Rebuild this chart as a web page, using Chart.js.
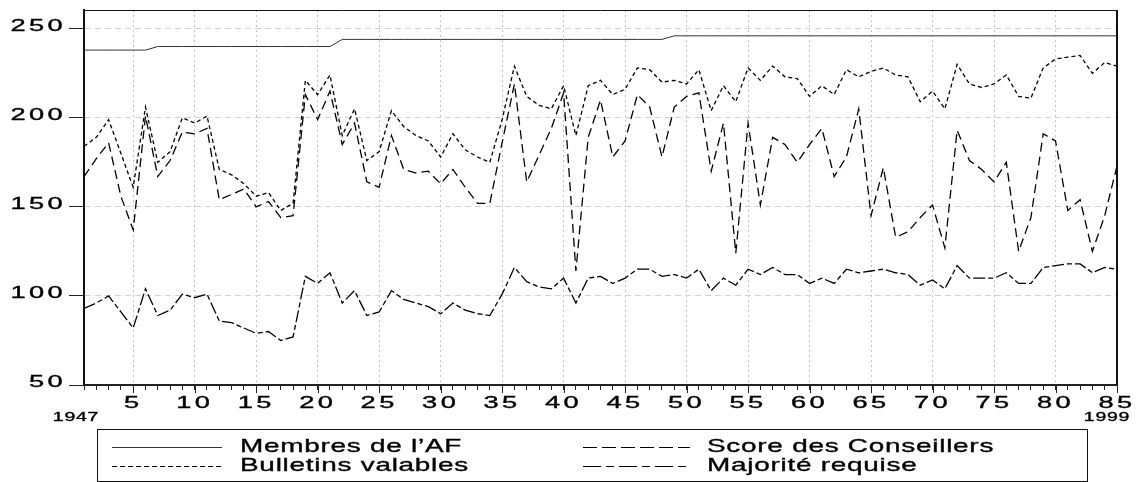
<!DOCTYPE html>
<html>
<head>
<meta charset="utf-8">
<title>Élections au Conseil fédéral 1947–1999</title>
<script src="https://cdn.jsdelivr.net/npm/chart.js@4/dist/chart.umd.min.js"></script>
<style>
  html, body { margin: 0; padding: 0; background: #ffffff; }
  #wrap { position: relative; width: 1138px; height: 482px; }
</style>
</head>
<body>
<div id="wrap"><canvas id="chart" width="1138" height="482"></canvas></div>
<script>
// Election number (1 = 1947 … 85 = 1999)
const elections = [
  1,2,3,4,5,6,7,8,9,10,11,12,13,14,15,16,17,18,19,20,
  21,22,23,24,25,26,27,28,29,30,31,32,33,34,35,36,37,38,39,40,
  41,42,43,44,45,46,47,48,49,50,51,52,53,54,55,56,57,58,59,60,
  61,62,63,64,65,66,67,68,69,70,71,72,73,74,75,76,77,78,79,80,
  81,82,83,84,85
];

// Members of the Federal Assembly
const membresAF = [
  238,238,238,238,238,238,240,240,240,240,240,240,240,240,240,240,240,240,240,240,
  240,244,244,244,244,244,244,244,244,244,244,244,244,244,244,244,244,244,244,244,
  244,244,244,244,244,244,244,244,246,246,246,246,246,246,246,246,246,246,246,246,
  246,246,246,246,246,246,246,246,246,246,246,246,246,246,246,246,246,246,246,246,
  246,246,246,246,246
];

// Valid ballots
const bulletinsValables = [
  184,189,199,180,161,206,175,181,200,197,201,171,168,163,156,158,148,152,
  221,213,224,190,205,176,181,204,195,190,187,
  178,191,182,178,175,199,229,212,207,205,218,190,218,221,
  213,216,228,227,220,221,219,227,204,218,209,228,221,229,
  223,222,212,218,213,227,223,226,228,224,223,209,215,205,
  230,219,217,219,224,212,211,228,233,234,235,225,231,229
];

// Votes obtained by the elected councillor
const scoreConseillers = [
  167,177,186,156,137,201,167,176,192,191,194,154,157,160,150,153,144,145,
  213,199,215,185,197,164,161,190,171,169,170,
  163,171,161,152,152,186,219,164,179,194,214,114,189,210,
  178,187,213,206,178,206,212,214,170,197,124,197,151,189,
  185,175,185,194,167,178,205,145,172,133,136,144,151,127,
  193,176,171,164,175,125,144,191,187,148,154,125,145,173
];

// Absolute majority required
const majoriteRequise = [
  93,96,100,91,82,104,89,92,101,99,101,86,85,82,79,80,75,77,
  111,107,113,96,103,89,91,103,98,96,94,
  90,96,92,90,89,101,116,108,105,104,110,96,110,111,
  107,110,115,115,111,112,110,115,103,110,106,115,112,116,
  112,112,107,110,107,115,113,114,115,113,112,106,109,104,
  117,110,110,110,113,107,107,116,117,118,118,113,116,115
];

const yTickValues = [50, 100, 150, 200, 250];
const xLabelStep = 5;
const firstYear = '1947';
const lastYear = '1999';

const toPoints = (arr) => arr.map((v, i) => ({ x: elections[i], y: v }));

// Draws text stretched horizontally around its anchor
function wideText(ctx, text, x, y, align, font, sx, spacing) {
  ctx.save();
  ctx.font = font;
  ctx.fillStyle = '#000';
  ctx.strokeStyle = '#000';
  ctx.lineWidth = 0.35;
  ctx.textBaseline = 'middle';
  ctx.textAlign = align;
  if ('letterSpacing' in ctx) ctx.letterSpacing = spacing + 'px';
  ctx.translate(x, y);
  ctx.scale(sx, 1);
  ctx.fillText(text, 0, 0);
  ctx.strokeText(text, 0, 0);
  ctx.restore();
}

const labelsAndLegend = {
  id: 'labelsAndLegend',
  afterDraw(chart) {
    const ctx = chart.ctx;
    const xs = chart.scales.x, ys = chart.scales.y;
    const area = chart.chartArea;

    // frame: top and right edges
    ctx.save();
    ctx.strokeStyle = '#111';
    ctx.lineWidth = 1;
    ctx.beginPath();
    ctx.moveTo(area.left, area.top + 0.5);
    ctx.lineTo(area.right, area.top + 0.5);
    ctx.stroke();
    ctx.lineWidth = 2;
    ctx.beginPath();
    ctx.moveTo(area.right, area.top);
    ctx.lineTo(area.right, area.bottom);
    ctx.stroke();
    // longer marks on every fifth election
    ctx.lineWidth = 1;
    ctx.strokeStyle = '#222';
    elections.forEach(v => {
      if (v % xLabelStep === 0) {
        const px = Math.round(xs.getPixelForValue(v)) + 0.5;
        ctx.beginPath();
        ctx.moveTo(px, area.bottom);
        ctx.lineTo(px, area.bottom + 8);
        ctx.stroke();
      }
    });
    ctx.restore();

    const tickFont = '16px "Liberation Sans", Arial, sans-serif';
    yTickValues.forEach(v => {
      wideText(ctx, String(v), area.left - 18, ys.getPixelForValue(v) - 2, 'right', tickFont, 1.7, 2);
    });
    elections.forEach(v => {
      if (v % xLabelStep === 0) {
        wideText(ctx, String(v), xs.getPixelForValue(v), area.bottom + 19, 'center', tickFont, 1.7, 2);
      }
    });
    const yearFont = '13px "Liberation Sans", Arial, sans-serif';
    wideText(ctx, firstYear, xs.getPixelForValue(elections[0]) - 8, area.bottom + 32, 'center', yearFont, 1.5, 0.5);
    wideText(ctx, lastYear, xs.getPixelForValue(elections[elections.length - 1]) - 10, area.bottom + 32, 'center', yearFont, 1.5, 0.5);

    // legend box
    const box = { left: 97, top: 429, right: 1087, bottom: 481 };
    ctx.save();
    ctx.strokeStyle = '#111';
    ctx.lineWidth = 1;
    ctx.strokeRect(box.left + 0.5, box.top + 0.5, box.right - box.left, box.bottom - box.top);
    ctx.restore();

    const ds = chart.data.datasets;
    const cols = [
      { x1: 112, x2: 222, tx: 240 },
      { x1: 583, x2: 690, tx: 707 }
    ];
    const rows = [447, 466];
    const order = [[0, 0, 0], [2, 1, 0], [1, 0, 1], [3, 1, 1]]; // dataset, col, row
    const legendFont = '19px "Liberation Sans", Arial, sans-serif';
    order.forEach(([di, c, r]) => {
      const d = ds[di];
      const y = rows[r] + 0.5;
      ctx.save();
      ctx.strokeStyle = d.borderColor;
      ctx.lineWidth = 1;
      ctx.setLineDash(d.legendDash || d.borderDash || []);
      ctx.beginPath();
      ctx.moveTo(cols[c].x1, y);
      ctx.lineTo(cols[c].x2, y);
      ctx.stroke();
      ctx.restore();
      wideText(ctx, d.label, cols[c].tx, rows[r], 'left', legendFont, 1.47, 0.5);
    });
  }
};

new Chart(document.getElementById('chart'), {
  type: 'line',
  data: {
    datasets: [
      { label: 'Membres de l\u2019AF', data: toPoints(membresAF), borderColor: '#333', borderWidth: 1, borderDash: [] },
      { label: 'Bulletins valables', data: toPoints(bulletinsValables), borderColor: '#000', borderWidth: 1.3, borderDash: [4, 3], legendDash: [5, 3] },
      { label: 'Score des Conseillers', data: toPoints(scoreConseillers), borderColor: '#000', borderWidth: 1.3, borderDash: [9, 5], legendDash: [14, 5] },
      { label: 'Majorité requise', data: toPoints(majoriteRequise), borderColor: '#000', borderWidth: 1.3, borderDash: [12, 3, 5, 3], legendDash: [18, 5, 8, 5] }
    ]
  },
  options: {
    responsive: false,
    animation: false,
    events: [],
    layout: { padding: { left: 0, right: 21, top: 10, bottom: 0 } },
    elements: { point: { radius: 0 }, line: { tension: 0, fill: false } },
    plugins: { legend: { display: false }, tooltip: { enabled: false }, title: { display: false } },
    scales: {
      x: {
        type: 'linear',
        min: 1,
        max: 85,
        afterBuildTicks: axis => { axis.ticks = elections.map(v => ({ value: v })); },
        afterFit: s => { s.height = 97; },
        ticks: { display: false },
        grid: {
          color: c => (c.tick && c.tick.value % xLabelStep === 0 && c.tick.value < 85) ? '#c2c2c2' : 'rgba(0,0,0,0)',
          lineWidth: 1,
          tickColor: '#222',
          tickLength: 5
        },
        border: { display: true, color: '#222', width: 2, dash: [2, 3] }
      },
      y: {
        type: 'linear',
        min: 50,
        max: 260.5,
        afterBuildTicks: axis => { axis.ticks = yTickValues.map(v => ({ value: v })); },
        afterFit: s => { s.width = 84; },
        ticks: { display: false },
        grid: {
          color: c => (c.tick && c.tick.value > 50) ? '#d2d2d2' : 'rgba(0,0,0,0)',
          lineWidth: 1,
          tickColor: '#222',
          tickLength: 15
        },
        border: { display: true, color: '#111', width: 2, dash: [6, 4] }
      }
    }
  },
  plugins: [labelsAndLegend]
});
</script>
</body>
</html>
